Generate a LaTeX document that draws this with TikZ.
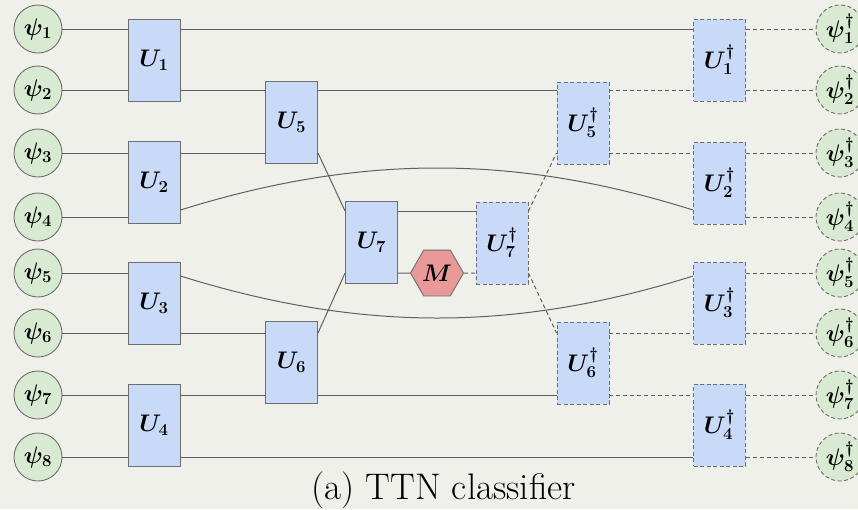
\RequirePackage{fix-cm}
\documentclass[tikz,border=0pt]{standalone}
\usepackage{amsmath}
\usepackage{bm}
\usetikzlibrary{shapes.geometric}
\definecolor{bgc}{RGB}{240,240,235}
\definecolor{boxc}{RGB}{201,218,248}
\definecolor{psic}{RGB}{217,234,211}
\definecolor{mc}{RGB}{234,153,153}
\definecolor{edgec}{RGB}{110,110,110}
\definecolor{linec}{RGB}{95,95,95}
\tikzset{
  gate/.style={draw=edgec, line width=0.9pt, fill=boxc, minimum width=52pt, minimum height=82pt, inner sep=0pt, font=\fontsize{24}{28}\selectfont},
  gated/.style={gate, dash pattern=on 4pt off 2.5pt},
  psin/.style={circle, draw=edgec, line width=0.9pt, fill=psic, minimum size=48pt, inner sep=0pt, font=\fontsize{24}{28}\selectfont},
  psid/.style={psin, dash pattern=on 4pt off 2.5pt},
  wire/.style={draw=linec, line width=1pt},
  wired/.style={wire, dash pattern=on 4pt off 3pt},
  meas/.style={regular polygon, regular polygon sides=6, draw=edgec, line width=0.9pt, fill=mc, minimum size=53pt, inner sep=0pt, font=\fontsize{24}{28}\selectfont}
}
\begin{document}
\begin{tikzpicture}[x=1pt,y=-1pt]
\fill[bgc] (0,0) rectangle (858,509);
\useasboundingbox (0,0) rectangle (858,509);
\begin{scope}
\clip (0,0) rectangle (858,509);
% input states
\node[psin] (p1) at (38,29) {$\bm{\psi_1}$};
\node[psin] (p2) at (38,90) {$\bm{\psi_2}$};
\node[psin] (p3) at (38,153) {$\bm{\psi_3}$};
\node[psin] (p4) at (38,217) {$\bm{\psi_4}$};
\node[psin] (p5) at (38,273) {$\bm{\psi_5}$};
\node[psin] (p6) at (38,333) {$\bm{\psi_6}$};
\node[psin] (p7) at (38,395) {$\bm{\psi_7}$};
\node[psin] (p8) at (38,457) {$\bm{\psi_8}$};
% output states
\node[psid] (q1) at (840,29) {$\bm{\psi_1^\dagger}$};
\node[psid] (q2) at (840,90) {$\bm{\psi_2^\dagger}$};
\node[psid] (q3) at (840,153) {$\bm{\psi_3^\dagger}$};
\node[psid] (q4) at (840,217) {$\bm{\psi_4^\dagger}$};
\node[psid] (q5) at (840,273) {$\bm{\psi_5^\dagger}$};
\node[psid] (q6) at (840,333) {$\bm{\psi_6^\dagger}$};
\node[psid] (q7) at (840,395) {$\bm{\psi_7^\dagger}$};
\node[psid] (q8) at (840,457) {$\bm{\psi_8^\dagger}$};
% gates
\node[gate] (U1) at (154,60) {$\bm{U_1}$};
\node[gate] (U2) at (154,182) {$\bm{U_2}$};
\node[gate] (U3) at (154,303) {$\bm{U_3}$};
\node[gate] (U4) at (154,425) {$\bm{U_4}$};
\node[gate] (U5) at (291.5,122.5) {$\bm{U_5}$};
\node[gate] (U6) at (291.5,362) {$\bm{U_6}$};
\node[gate] (U7) at (371.5,242) {$\bm{U_7}$};
\node[meas] (M) at (437,273) {$\bm{M}$};
\node[gated] (V7) at (502,243) {$\bm{U_7^\dagger}$};
\node[gated] (V5) at (583,123) {$\bm{U_5^\dagger}$};
\node[gated] (V6) at (583,363) {$\bm{U_6^\dagger}$};
\node[gated] (V1) at (719.5,60) {$\bm{U_1^\dagger}$};
\node[gated] (V2) at (719.5,183) {$\bm{U_2^\dagger}$};
\node[gated] (V3) at (719.5,303) {$\bm{U_3^\dagger}$};
\node[gated] (V4) at (719.5,425) {$\bm{U_4^\dagger}$};
\coordinate (ya) at (0,211);
\coordinate (yb) at (0,273);
\coordinate (yc) at (0,210);
\coordinate (yd) at (0,276);
% input wires
\draw[wire] (p1) -- (U1.west |- p1);
\draw[wire] (p2) -- (U1.west |- p2);
\draw[wire] (p3) -- (U2.west |- p3);
\draw[wire] (p4) -- (U2.west |- p4);
\draw[wire] (p5) -- (U3.west |- p5);
\draw[wire] (p6) -- (U3.west |- p6);
\draw[wire] (p7) -- (U4.west |- p7);
\draw[wire] (p8) -- (U4.west |- p8);
% encoder
\draw[wire] (U1.east |- p1) -- (V1.west |- p1);
\draw[wire] (U1.east |- p2) -- (U5.west |- p2);
\draw[wire] (U2.east |- p3) -- (U5.west |- p3);
\draw[wire] (U2.east |- yc) .. controls (360,154) and (515,154) .. (V2.west |- yc);
\draw[wire] (U3.east |- yd) .. controls (360,332) and (515,332) .. (V3.west |- yd);
\draw[wire] (U3.east |- p6) -- (U6.west |- p6);
\draw[wire] (U4.east |- p7) -- (U6.west |- p7);
\draw[wire] (U4.east |- p8) -- (V4.west |- p8);
\draw[wire] (U5.east |- p2) -- (V5.west |- p2);
\draw[wire] (U5.east |- p3) -- (U7.west |- ya);
\draw[wire] (U6.east |- p6) -- (U7.west |- yb);
\draw[wire] (U6.east |- p7) -- (V6.west |- p7);
\draw[wire] (U7.east |- ya) -- (V7.west |- ya);
\draw[wire] (U7.east |- yb) -- (M.west);
% decoder
\draw[wired] (M.east) -- (V7.west |- yb);
\draw[wired] (V7.east |- ya) -- (V5.west |- p3);
\draw[wired] (V7.east |- yb) -- (V6.west |- p6);
\draw[wired] (V5.east |- p2) -- (V1.west |- p2);
\draw[wired] (V5.east |- p3) -- (V2.west |- p3);
\draw[wired] (V6.east |- p6) -- (V3.west |- p6);
\draw[wired] (V6.east |- p7) -- (V4.west |- p7);
\draw[wired] (V1.east |- q1) -- (q1);
\draw[wired] (V1.east |- q2) -- (q2);
\draw[wired] (V2.east |- q3) -- (q3);
\draw[wired] (V2.east |- q4) -- (q4);
\draw[wired] (V3.east |- q5) -- (q5);
\draw[wired] (V3.east |- q6) -- (q6);
\draw[wired] (V4.east |- q7) -- (q7);
\draw[wired] (V4.east |- q8) -- (q8);
\end{scope}
\node[anchor=base, inner sep=0pt, font=\fontsize{37}{42}\selectfont] (cap) at (443.5,499) {(a) TTN classifier};
\end{tikzpicture}
\end{document}
